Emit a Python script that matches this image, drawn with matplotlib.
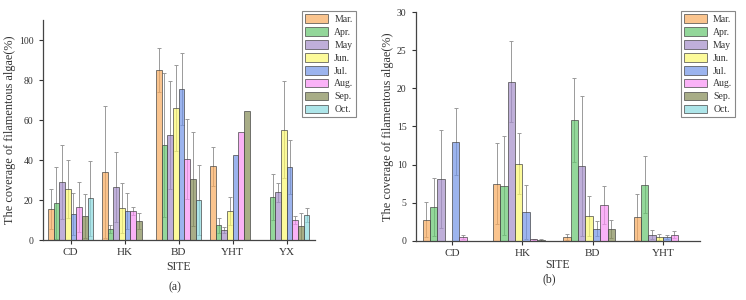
import numpy as np
import matplotlib
matplotlib.use("Agg")
import matplotlib.pyplot as plt
from matplotlib.colors import to_rgb
from matplotlib.patches import Patch

plt.rcParams['font.family'] = ['Liberation Serif', 'DejaVu Serif']

months = ["Mar.", "Apr.", "May", "Jun.", "Jul.", "Aug.", "Sep.", "Oct."]
# colours as they appear on the page (bars are drawn semi-transparent)
seen_colors = ["#FAC48F", "#94D79A", "#BFB0DA", "#FDFB9B",
               "#9CB5EE", "#FAB3F7", "#A8AE88", "#AEE6EA"]

# panel (a)
sites_a = ["CD", "HK", "BD", "YHT", "YX"]
mean_a = [
    [15.6, 34.0, 85.0, 36.9, 0.0],   # Mar.
    [18.6, 5.5, 47.7, 7.3, 21.6],    # Apr.
    [29.1, 26.5, 52.3, 5.0, 23.8],   # May
    [25.5, 16.1, 65.8, 14.3, 55.1],  # Jun.
    [13.1, 14.5, 75.4, 42.3, 36.5],  # Jul.
    [16.5, 14.3, 40.7, 54.0, 9.8],   # Aug.
    [12.0, 9.5, 30.4, 64.3, 6.8],    # Sep.
    [20.8, 0.0, 19.9, 0.0, 12.6],    # Oct.
]
err_a = [
    [10.0, 33.0, 10.8, 9.8, 0.0],
    [18.0, 2.2, 36.0, 3.7, 11.4],
    [18.5, 17.5, 27.0, 1.3, 4.6],
    [14.5, 12.5, 21.5, 7.0, 24.3],
    [10.4, 9.0, 18.0, 0.0, 13.5],
    [12.5, 2.0, 20.0, 0.0, 2.0],
    [11.0, 4.1, 23.4, 0.0, 6.6],
    [18.8, 0.0, 17.6, 0.0, 3.5],
]

# panel (b)
sites_b = ["CD", "HK", "BD", "YHT"]
mean_b = [
    [2.75, 7.5, 0.48, 3.1],
    [4.4, 7.24, 15.83, 7.37],
    [8.1, 20.9, 9.86, 0.78],
    [0.0, 10.1, 3.23, 0.48],
    [13.0, 3.75, 1.57, 0.48],
    [0.48, 0.15, 4.67, 0.78],
    [0.0, 0.1, 1.57, 0.0],
    [0.0, 0.0, 0.0, 0.0],
]
err_b = [
    [2.3, 5.3, 0.4, 3.0],
    [3.85, 6.5, 5.5, 3.7],
    [6.4, 5.3, 9.2, 0.6],
    [0.0, 4.0, 2.65, 0.4],
    [4.4, 3.5, 1.0, 0.3],
    [0.3, 0.1, 2.45, 0.5],
    [0.0, 0.1, 1.2, 0.0],
    [0.0, 0.0, 0.0, 0.0],
]

ALPHA = 0.7
base_colors = [tuple(1 - (1 - c) / ALPHA for c in to_rgb(h)) for h in seen_colors]
base_colors = [tuple(min(max(v, 0), 1) for v in c) for c in base_colors]
text_col = "#333333"


def draw_panel(ax, sites, means, errs, ylim, yticks, xpad):
    x = np.arange(len(sites))
    w = 0.105
    for i, m in enumerate(months):
        pos = x + (i - 3.5) * w
        vals = np.array(means[i])
        e = np.array(errs[i])
        show = e > 0
        ax.errorbar(pos[show], vals[show], yerr=e[show], fmt='none',
                    ecolor="#9a9a9a", elinewidth=0.7, capsize=1.6,
                    capthick=0.7, zorder=1)
        keep = vals > 0
        ax.bar(pos[keep], vals[keep], width=w, color=base_colors[i],
               alpha=ALPHA, edgecolor="#444444", linewidth=0.7, zorder=2)
    ax.set_xlim(-0.52, len(sites) - 0.48)
    ax.set_ylim(*ylim)
    ax.set_yticks(yticks)
    ax.set_xticks(x)
    ax.set_xticklabels(sites, fontsize=8, color=text_col)
    ax.tick_params(axis='y', labelsize=7, colors=text_col, length=3, width=0.8)
    ax.tick_params(axis='x', length=3, width=0.8, colors=text_col, pad=3)
    for s in ["top", "right"]:
        ax.spines[s].set_visible(False)
    for s in ["left", "bottom"]:
        ax.spines[s].set_color("#444444")
        ax.spines[s].set_linewidth(0.9)
    ax.set_xlabel("SITE", fontsize=8.5, color=text_col, labelpad=xpad)
    ax.set_ylabel("The coverage of filamentous algae(%)", fontsize=8.8,
                  color=text_col, labelpad=2)


fig = plt.figure(figsize=(7.46, 3.0), dpi=100)
ax_a = fig.add_axes([0.057, 0.2, 0.365, 0.733])
ax_b = fig.add_axes([0.557, 0.198, 0.381, 0.761])

draw_panel(ax_a, sites_a, mean_a, err_a, (0, 110), [0, 20, 40, 60, 80, 100], 3)
draw_panel(ax_b, sites_b, mean_b, err_b, (0, 30), [0, 5, 10, 15, 20, 25, 30], 0.5)

handles = [Patch(facecolor=base_colors[i], alpha=ALPHA, edgecolor="#444444",
                 linewidth=0.7, label=m) for i, m in enumerate(months)]
for anchor in [(0.405, 0.962), (0.913, 0.962)]:
    leg = fig.legend(handles=handles, loc='upper left', bbox_to_anchor=anchor,
                     fontsize=7, handlelength=2.4, handleheight=1.0,
                     labelspacing=0.33, handletextpad=0.6, borderpad=0.3,
                     borderaxespad=0, fancybox=False, framealpha=1)
    leg.get_frame().set_edgecolor("#888888")
    leg.get_frame().set_linewidth(0.8)
    for t in leg.get_texts():
        t.set_color(text_col)

fig.text(0.235, 0.043, "(a)", fontsize=8.5, color=text_col, ha='center', va='center')
fig.text(0.736, 0.07, "(b)", fontsize=8.5, color=text_col, ha='center', va='center')

fig.savefig("out.png", dpi=100)
